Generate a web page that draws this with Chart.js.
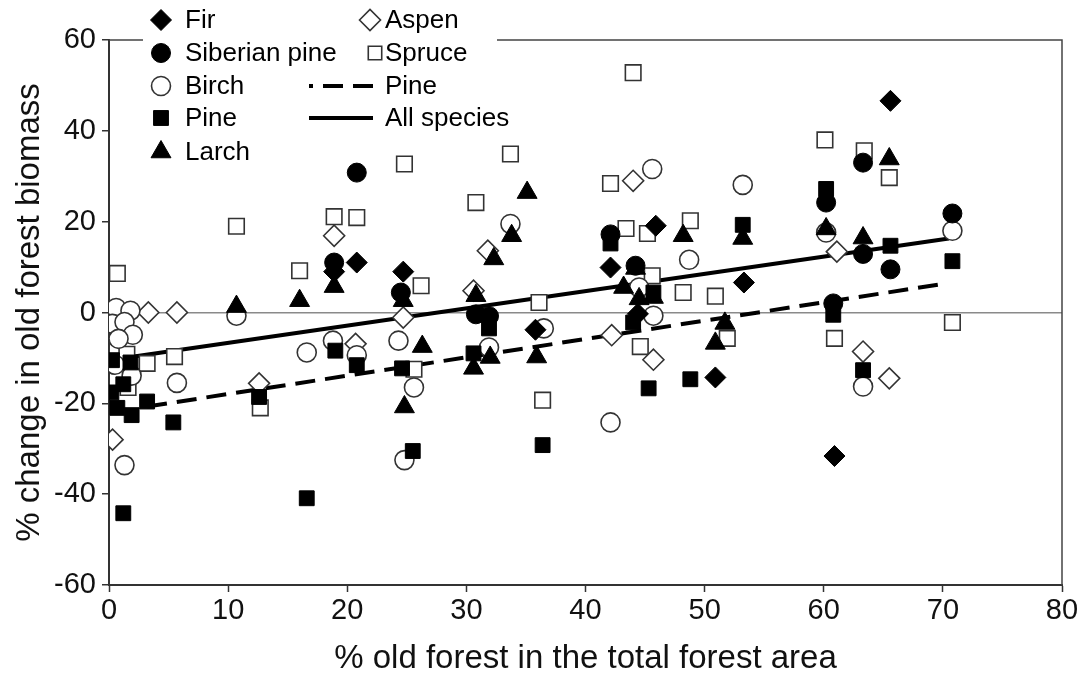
<!DOCTYPE html>
<html lang="en">
<head>
    <meta charset="UTF-8">
    <title>Old forest biomass change</title>
    <script src="https://cdn.jsdelivr.net/npm/chart.js"></script>
    <style>
        body { margin: 0; background: #fff; }
        .wrap { width: 1078px; height: 683px; position: relative; }
    </style>
</head>
<body>
    <div class="wrap"><canvas id="chart"></canvas></div>

    <script>
        // values: x = % old forest, y = % change in old forest biomass
        const firX = [18.9, 20.8, 24.7, 35.8, 42.1, 44.4, 45.9, 50.9, 53.3, 60.9, 65.6];
        const firY = [9.0, 11.0, 9.0, -3.8, 9.9, -0.3, 19.1, -14.3, 6.6, -31.6, 46.6];

        const sibX = [18.9, 20.8, 24.5, 30.8, 31.9, 42.1, 44.2, 60.2, 60.8, 63.3, 63.3, 65.6, 70.8];
        const sibY = [11.0, 30.8, 4.4, -0.4, -0.8, 17.2, 10.3, 24.2, 2.0, 33.0, 12.9, 9.5, 21.8];

        const birchX = [0.3, 0.6, 1.8, 0.3, 1.3, 2.0, 0.8, 0.5, 1.9, 1.3, 5.7, 10.7, 16.6, 18.8, 20.8, 24.3, 25.6, 24.8,
                        31.9, 33.7, 36.5, 42.1, 44.5, 45.6, 45.7, 48.7, 53.2, 60.2, 63.3, 70.8];
        const birchY = [0.0, 1.0, 0.4, -2.5, -2.1, -4.9, -5.8, -11.5, -13.9, -33.6, -15.5, -0.7, -8.8, -6.2, -9.4, -6.2, -16.5, -32.5,
                        -7.7, 19.5, -3.5, -24.2, 5.5, 31.6, -0.7, 11.6, 28.1, 17.6, -16.3, 18.0];

        const pineX = [0.25, 1.8, 1.2, 0.2, 3.2, 0.7, 1.9, 5.4, 1.2, 12.6, 16.6, 19.0, 20.8, 24.6, 25.5, 30.6, 31.9, 36.4,
                       42.1, 44.0, 45.7, 45.3, 48.8, 53.2, 60.2, 60.8, 63.3, 65.6, 70.8];
        const pineY = [-10.5, -11.0, -15.8, -17.6, -19.6, -21.0, -22.6, -24.2, -44.2, -18.6, -40.9, -8.4, -11.6, -12.3, -30.5, -9.0, -3.5, -29.2,
                       15.2, -2.2, 4.4, -16.7, -14.7, 19.3, 27.2, -0.5, -12.7, 14.7, 11.3];

        const larchX = [10.7, 16.0, 18.9, 24.7, 24.8, 26.3, 30.8, 30.6, 32.0, 32.3, 33.8, 35.1, 35.9, 43.2, 44.2, 44.5,
                        45.7, 48.2, 50.9, 51.7, 53.2, 60.2, 63.3, 65.5];
        const larchY = [1.3, 2.6, 5.7, 2.6, -20.8, -7.5, 3.7, -12.3, -9.9, 11.8, 16.9, 26.4, -9.8, 5.5, 9.7, 3.0,
                        3.3, 16.9, -6.8, -2.4, 16.3, 18.4, 16.4, 33.8];

        const aspenX = [0.2, 3.3, 5.7, 0.3, 12.6, 18.9, 20.7, 24.7, 30.6, 31.8, 42.2, 44.0, 45.7, 61.1, 63.3, 65.5];
        const aspenY = [0.3, 0.0, 0.0, -28.0, -15.6, 16.9, -6.9, -1.1, 4.8, 13.6, -5.0, 29.0, -10.4, 13.4, -8.6, -14.5];

        const spruceX = [0.7, 1.5, 3.2, 1.6, 5.5, 10.7, 12.7, 16.0, 18.9, 20.8, 24.8, 26.2, 25.6, 30.8, 33.7, 36.1, 36.4,
                         42.1, 43.4, 44.0, 45.2, 45.6, 44.6, 48.8, 48.2, 50.9, 51.9, 60.1, 60.9, 63.4, 65.5, 70.8];
        const spruceY = [8.6, -9.2, -11.2, -16.5, -9.7, 19.0, -21.0, 9.2, 21.1, 20.9, 32.7, 5.9, -12.5, 24.2, 34.9, 2.2, -19.3,
                         28.4, 18.5, 52.8, 17.4, 8.1, -7.5, 20.2, 4.4, 3.6, -5.7, 38.0, -5.7, 35.6, 29.7, -2.2];

        // fitted lines (end points)
        const pineFitX = [3.2, 70.3];
        const pineFitY = [-20.7, 6.4];
        const allFitX = [0.8, 70.5];
        const allFitY = [-10.2, 16.3];

        const xTicks = [0, 10, 20, 30, 40, 50, 60, 70, 80];
        const yTicks = [-60, -40, -20, 0, 20, 40, 60];

        const pts = (xs, ys) => xs.map((x, i) => ({ x: x, y: ys[i] }));

        const INK = '#000';
        const EDGE = '#333';
        const sans = "'Liberation Sans', Arial, sans-serif";

        function filled(label, xs, ys, style, r) {
            return { label: label, data: pts(xs, ys), pointStyle: style, pointRadius: r,
                     backgroundColor: INK, borderColor: INK, borderWidth: 1, showLine: false };
        }
        function hollow(label, xs, ys, style, r) {
            return { label: label, data: pts(xs, ys), pointStyle: style, pointRadius: r,
                     backgroundColor: '#fff', borderColor: EDGE, borderWidth: 1.6, showLine: false };
        }

        const datasets = [
            filled('Larch', larchX, larchY, 'triangle', 11.5),
            filled('Fir', firX, firY, 'rectRot', 10.5),
            filled('Pine', pineX, pineY, 'rect', 10.5),
            filled('Siberian pine', sibX, sibY, 'circle', 9.5),
            hollow('Birch', birchX, birchY, 'circle', 9.5),
            hollow('Aspen', aspenX, aspenY, 'rectRot', 10.5),
            hollow('Spruce', spruceX, spruceY, 'rect', 11),
            { label: 'Pine fit', data: pts(pineFitX, pineFitY), showLine: true, pointRadius: 0,
              borderColor: INK, borderWidth: 4, borderDash: [20, 10], fill: false },
            { label: 'All species', data: pts(allFitX, allFitY), showLine: true, pointRadius: 0,
              borderColor: INK, borderWidth: 4, fill: false }
        ];

        // legend, two columns, drawn over the top of the frame
        const legendLeft = [['Fir', 'Fir'], ['Siberian pine', 'Siberian pine'], ['Birch', 'Birch'], ['Pine', 'Pine'], ['Larch', 'Larch']];
        const legendRight = [['Aspen', 'Aspen'], ['Spruce', 'Spruce'], ['Pine fit', 'Pine'], ['All species', 'All species']];

        function marker(ctx, style, x, y, r) {
            ctx.beginPath();
            if (style === 'circle') {
                ctx.arc(x, y, r, 0, Math.PI * 2);
            } else if (style === 'rect') {
                const s = Math.SQRT1_2 * r;
                ctx.rect(x - s, y - s, 2 * s, 2 * s);
            } else if (style === 'rectRot') {
                ctx.moveTo(x - r, y); ctx.lineTo(x, y - r); ctx.lineTo(x + r, y); ctx.lineTo(x, y + r);
                ctx.closePath();
            } else if (style === 'triangle') {
                const a = 2 * Math.PI / 3;
                ctx.moveTo(x, y - r);
                ctx.lineTo(x + Math.sin(a) * r, y - Math.cos(a) * r);
                ctx.lineTo(x + Math.sin(2 * a) * r, y - Math.cos(2 * a) * r);
                ctx.closePath();
            }
            ctx.fill();
            ctx.stroke();
        }

        const frameLegend = {
            id: 'frameLegend',
            beforeDatasetsDraw(chart) {
                const { ctx, chartArea: a } = chart;
                ctx.save();
                ctx.strokeStyle = '#444';
                ctx.lineWidth = 1.5;
                ctx.beginPath();
                ctx.moveTo(a.left, a.top);
                ctx.lineTo(a.right, a.top);
                ctx.lineTo(a.right, a.bottom);
                ctx.stroke();
                ctx.restore();
            },
            afterDraw(chart) {
                const ctx = chart.ctx;
                const byLabel = {};
                chart.data.datasets.forEach(d => { byLabel[d.label] = d; });
                ctx.save();
                ctx.fillStyle = '#fff';
                ctx.fillRect(143, 0, 354, 50);
                ctx.font = '26px ' + sans;
                ctx.textBaseline = 'middle';
                const rowY = [20, 53, 86, 118, 152];

                legendLeft.forEach((item, i) => {
                    const d = byLabel[item[0]];
                    ctx.fillStyle = d.backgroundColor;
                    ctx.strokeStyle = d.borderColor;
                    ctx.lineWidth = d.borderWidth;
                    marker(ctx, d.pointStyle, 161, rowY[i], d.pointRadius);
                    ctx.fillStyle = '#000';
                    ctx.fillText(item[1], 185, rowY[i] + 1);
                });

                legendRight.forEach((item, i) => {
                    const d = byLabel[item[0]];
                    if (d.showLine) {
                        ctx.strokeStyle = d.borderColor;
                        ctx.lineWidth = d.borderWidth;
                        ctx.setLineDash(d.borderDash || []);
                        ctx.lineDashOffset = d.borderDash ? 16 : 0;
                        ctx.beginPath();
                        ctx.moveTo(309, rowY[i]);
                        ctx.lineTo(373, rowY[i]);
                        ctx.stroke();
                        ctx.setLineDash([]);
                    } else {
                        ctx.fillStyle = d.backgroundColor;
                        ctx.strokeStyle = d.borderColor;
                        ctx.lineWidth = d.borderWidth;
                        const r = d.pointStyle === 'rect' ? 9.5 : d.pointRadius;
                        marker(ctx, d.pointStyle, d.pointStyle === 'rect' ? 375 : 370, rowY[i], r);
                    }
                    ctx.fillStyle = '#000';
                    ctx.fillText(item[1], 385, rowY[i] + 1);
                });
                ctx.restore();
            }
        };

        new Chart(document.getElementById('chart'), {
            type: 'scatter',
            data: { datasets: datasets },
            options: {
                responsive: true,
                maintainAspectRatio: false,
                animation: false,
                layout: { padding: { top: 40, right: 16, left: 0, bottom: 0 } },
                plugins: { legend: { display: false }, tooltip: { enabled: false } },
                scales: {
                    x: {
                        type: 'linear', min: 0, max: 80,
                        afterFit: s => { s.height = 98; s.paddingLeft = 0; s.paddingRight = 0; },
                        afterBuildTicks: s => { s.ticks = xTicks.map(v => ({ value: v })); },
                        ticks: { color: '#111', padding: 2, font: { family: sans, size: 29 }, maxRotation: 0 },
                        grid: { drawOnChartArea: false, tickLength: 7, tickColor: '#333', tickWidth: 1.5 },
                        border: { color: '#333', width: 2 },
                        title: { display: true, text: '% old forest in the total forest area', color: '#111',
                                 font: { family: sans, size: 33 }, padding: { top: 0, bottom: 4 } }
                    },
                    y: {
                        type: 'linear', min: -60, max: 60,
                        afterFit: s => { s.width = 109; s.paddingTop = 0; s.paddingBottom = 0; },
                        afterBuildTicks: s => { s.ticks = yTicks.map(v => ({ value: v })); },
                        ticks: { color: '#111', padding: 6, font: { family: sans, size: 29 } },
                        grid: {
                            color: c => (c.tick && c.tick.value === 0 ? '#8a8a8a' : 'rgba(0,0,0,0)'),
                            lineWidth: 1.5, tickLength: 7, tickColor: '#333', tickWidth: 1.5
                        },
                        border: { color: '#333', width: 2 },
                        title: { display: true, text: '% change in old forest biomass', color: '#111',
                                 font: { family: sans, size: 33 }, padding: { top: 10, bottom: 0 } }
                    }
                }
            },
            plugins: [frameLegend]
        });
    </script>
</body>
</html>
